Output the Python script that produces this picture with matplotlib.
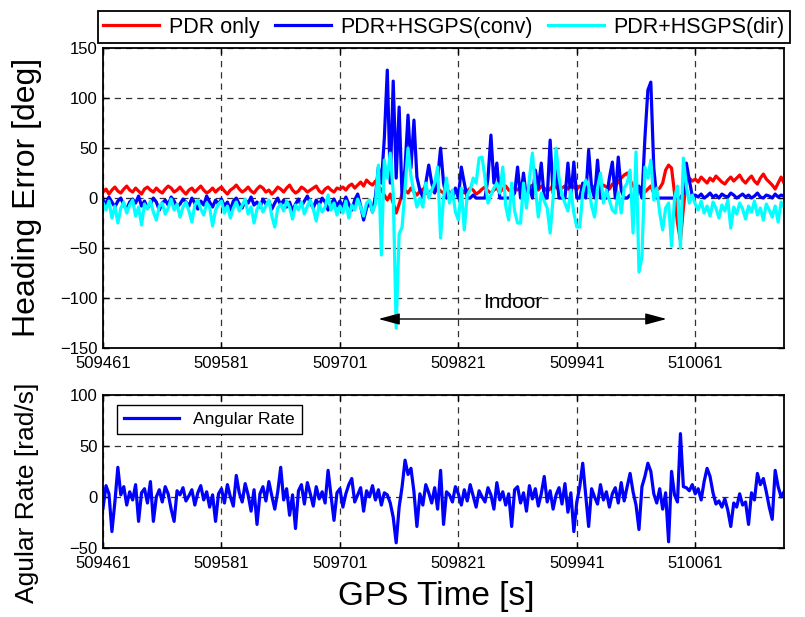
import numpy as np
import matplotlib
matplotlib.use("Agg")
import matplotlib.pyplot as plt

plt.rcParams['font.family'] = ['Liberation Sans', 'DejaVu Sans']

# Sampling: one value every 3 s starting at the first GPS second
t_start = 509461
t_step = 3

pdr_only = [
    6, 9, 4, 8, 11, 7, 5, 9, 12, 8, 6, 10, 7, 4, 9, 11, 8, 6, 10, 7,
    5, 9, 12, 10, 6, 8, 11, 7, 4, 8, 10, 6, 9, 12, 8, 5, 7, 10, 6, 9,
    11, 7, 4, 8, 10, 13, 9, 6, 8, 11, 7, 5, 9, 12, 10, 6, 8, 4, 7, 11,
    9, 6, 10, 13, 8, 5, 7, 11, 9, 6, 8, 10, 12, 7, 5, 9, 11, 8, 6, 10,
    9, 11, 8, 12, 14, 10, 13, 16, 12, 18, 15, 13, 17, 12, 8, 3, -2, 4, -5, -15,
    -6, 4, 8, 5, 10, 6, 3, 7, 9, 5, 4, 8, 6, 10, 7, 5, 9, 6, 4, 8,
    6, 9, 5, 7, 10, 8, 4, 6, 9, 11, 7, 5, 8, 10, 6, 9, 12, 8, 6, 10,
    8, 12, 9, 7, 11, 13, 9, 8, 12, 10, 7, 9, 13, 11, 8, 10, 12, 9, 14, 11,
    9, 12, 10, 14, 11, 8, 12, 15, 10, 13, 11, 9, 14, 12, 16, 20, 23, 25, 18, 12,
    10, 8, 11, 6, 9, 12, 5, 8, 10, 15, 28, 33, 30, 5, -25, -42, -10, 18, 20, 17,
    19, 16, 21, 18, 15, 20, 17, 22, 19, 16, 14, 18, 21, 17, 20, 23, 18, 15, 19, 22,
    17, 14, 20, 24, 19, 16, 13, 9, 15, 21, 15,
]

hsgps_conv = [
    -2, -6, 1, -4, -9, -3, 0, -7, -11, -4, -1, -5, 2, -8, -3, -10, -6, 0, -4, -12,
    -5, -2, -7, 1, -3, -9, -6, -1, -4, -8, 0, -5, -11, -3, -7, 2, -4, -9, -2, -6,
    -1, -8, -4, -12, -3, 0, -6, -10, -2, -5, 1, -7, -4, -9, -1, -6, -3, -11, -5, 0,
    -7, -2, -9, -4, -13, -6, -1, -8, -3, 2, -5, -10, -2, -7, 0, -4, -12, -6, -1, -8,
    -3, -9, 1, -6, -12, -2, 4, -8, -22, -10, -3, -14, 2, 31, 15, 60, 128, 15, 117, 20,
    91, 0, 31, 83, 30, 78, 21, 8, 1, 15, 33, 15, 5, 20, 50, 15, 0, 5, 0, 10,
    0, 31, 15, 0, 0, 3, 0, 0, 0, 0, 20, 63, 15, 35, 0, 0, 0, 0, 0, 5,
    31, 0, 25, 0, 12, 0, 28, 10, 35, 0, 0, 58, 5, 31, 0, 0, 0, 35, 0, 36,
    0, 0, 15, 0, 48, 10, 0, 38, 0, 0, 0, 20, 36, 0, 41, 8, 0, 0, 3, 0,
    0, 12, 0, 60, 108, 116, 30, 0, 0, 0, 0, 0, 0, 0, 0, 0, 5, 35, 18, 2,
    3, 1, 4, 0, 2, 5, 1, 3, 0, 4, 2, 1, 5, 3, 0, 2, 4, 1, 3, 0,
    2, 5, 1, 0, 3, 2, 0, 4, 1, 3, 2,
]

hsgps_dir = [
    -5, -12, -3, -20, -8, -25, -10, -4, -15, -7, -2, -18, -9, -27, -6, -11, -3, -14, -22, -8,
    -5, -16, -10, -1, -12, -6, -19, -9, -4, -13, -24, -7, -2, -11, -17, -5, -9, -28, -12, -6,
    -3, -15, -8, -20, -10, -4, -13, -7, -1, -16, -9, -25, -11, -5, -14, -8, -2, -18, -29, -10,
    -6, -13, -3, -9, -21, -7, -12, -4, -16, -8, -2, -11, -23, -6, -14, -9, 3, -12, -5, -17,
    -8, -15, -3, -20, -7, -12, -1, -9, -18, -5, -2, -14, -6, 33, -57, 38, 20, 45, 5, -130,
    -36, -29, 10, 50, 22, 5, -9, 0, -9, 15, 0, 8, 15, 31, -40, 0, 20, -5, 8, -14,
    -22, 10, -32, 3, 8, 20, 15, 40, 41, 20, -5, 3, 10, 15, 5, 31, -8, -22, 15, -13,
    -25, -25, 15, -10, 20, 45, 10, -19, 5, -3, -10, -35, 0, 50, 20, 3, -5, -13, 8, -15,
    -29, -29, 5, 18, 12, -8, -19, 10, 25, -5, 8, -2, -12, -15, 6, -15, 10, 15, 28, -35,
    46, -74, -59, 31, 20, 38, -2, 10, -15, -32, -10, -5, -48, 0, 12, -50, 40, 12, -5, 3,
    -6, -12, -3, -15, -8, -18, -4, -10, -20, -7, -13, -2, -30, -9, -16, -5, -11, -21, -8, -14,
    -3, -17, -10, -22, -6, -12, -19, -8, -24, -4, -9,
]

angular_rate = [
    -11, 11, 3, -34, -5, 29, 2, 10, -8, 5, -3, 12, -24, 4, 8, -6, 15, -24, 0, 7,
    -5, 10, 3, -12, -24, 6, 2, 9, -4, 1, 7, -8, 4, 11, -3, 5, -10, 2, -24, 3,
    8, -6, 12, 0, -9, 21, 4, -5, 13, 2, -14, 7, -27, 3, 10, -4, 15, 1, -12, 5,
    29, -3, 8, -18, 2, -31, 6, 12, -7, 14, 3, -9, 10, -2, 5, -6, 26, 1, -23, 4,
    8, -10, 3, 12, 18, -5, 2, 9, -14, 6, 0, 11, -3, 7, -8, 4, 2, -6, -20, -45,
    -10, 10, 36, 22, 28, 5, -29, 3, -8, 12, 4, -6, 9, -12, 26, -27, 5, 2, -5, 10,
    3, -8, 7, -4, 12, 1, -10, 6, 0, -5, 9, 2, -12, 14, -3, 5, -8, 3, -29, 7,
    10, -6, 4, -14, 11, -2, 8, -9, 3, 20, -5, 6, -12, 2, 9, -7, 13, -15, 4, -34,
    -5, 10, 33, 2, -29, 8, 0, -7, 12, -3, 5, -10, 3, 9, -6, 14, -4, 10, 23, 5,
    -8, -32, 10, 20, 33, 25, 3, -6, 8, -12, 4, -44, 25, 2, -5, 62, 10, 9, 6, 12,
    3, 8, -3, 15, 28, 20, 4, -7, -4, -10, -2, -13, -29, -6, -10, 3, -8, -5, -27, 4,
    -3, 23, 12, 18, 5, -10, -22, 26, 10, 0, 5,
]

series_labels = ['PDR only', 'PDR+HSGPS(conv)', 'PDR+HSGPS(dir)']
series_colors = ['#ff0000', '#0000ff', '#00ffff']

x_ticks = [509461, 509581, 509701, 509821, 509941, 510061]
x_limits = (509461, 510151)
heading_ticks = [-150, -100, -50, 0, 50, 100, 150]
rate_ticks = [-50, 0, 50, 100]

indoor_begin = 509740
indoor_end = 510032
indoor_level = -121

t = t_start + t_step * np.arange(len(pdr_only))

fig = plt.figure(figsize=(8.05, 6.17), dpi=100)
ax1 = fig.add_axes([0.128, 0.436, 0.846, 0.486])
ax2 = fig.add_axes([0.128, 0.112, 0.846, 0.248])

grid_style = dict(linestyle=(0, (5, 4)), color='#333333', linewidth=0.9)

for ax in (ax1, ax2):
    ax.set_xlim(*x_limits)
    ax.set_xticks(x_ticks)
    ax.set_xticklabels([str(v) for v in x_ticks])
    ax.grid(True, **grid_style)
    ax.set_axisbelow(True)
    for sp in ax.spines.values():
        sp.set_linewidth(1.3)
        sp.set_color('black')
    ax.tick_params(direction='in', length=4, width=1, labelsize=12,
                   top=True, right=True)
    ax.tick_params(axis='x', pad=6)
    ax.tick_params(axis='y', pad=4)

# Heading error
handles = []
for vals, lab, col in zip([pdr_only, hsgps_conv, hsgps_dir], series_labels, series_colors):
    h, = ax1.plot(t, vals, color=col, linewidth=2.3, label=lab, solid_joinstyle='round')
    handles.append(h)
ax1.set_ylim(-150, 150)
ax1.set_yticks(heading_ticks)
ax1.set_ylabel('Heading Error [deg]', fontsize=23)
ax1.yaxis.label.set_va('center')
ax1.yaxis.set_label_coords(-0.112, 0.503)

leg = ax1.legend(handles=handles, loc='lower left', ncol=3, mode='expand',
                 bbox_to_anchor=(-0.0073, 1.0167, 1.016, 0.11), borderaxespad=0,
                 fancybox=False, edgecolor='black', framealpha=1, borderpad=0.25,
                 handlelength=2.6, handletextpad=0.45, columnspacing=0.8,
                 fontsize=15.5)
leg.get_frame().set_linewidth(1.3)

ax1.annotate('', xy=(indoor_end, indoor_level), xytext=(indoor_begin, indoor_level),
             arrowprops=dict(arrowstyle='<|-|>,head_length=1.3,head_width=0.35',
                             color='black', lw=1, shrinkA=0, shrinkB=0))
ax1.text((indoor_begin + indoor_end) / 2 - 10, -104, 'Indoor', fontsize=15,
         ha='center', va='center')

# Angular rate
ax2.plot(t, angular_rate, color='#0000ff', linewidth=2.3, label='Angular Rate')
ax2.set_ylim(-50, 100)
ax2.set_yticks(rate_ticks)
ax2.set_ylabel('Agular Rate [rad/s]', fontsize=19)
ax2.yaxis.label.set_va('center')
ax2.yaxis.set_label_coords(-0.112, 0.36)
ax2.set_xlabel('GPS Time [s]', fontsize=24)
ax2.xaxis.label.set_va('center')
ax2.xaxis.set_label_coords(0.489, -0.32)
leg2 = ax2.legend(loc='upper left', fancybox=False, edgecolor='black', framealpha=1,
                  fontsize=12.5, handlelength=3.2, borderaxespad=0.6,
                  bbox_to_anchor=(0.005, 1.0))
leg2.get_frame().set_linewidth(1.0)

fig.savefig('out.png', dpi=100)
